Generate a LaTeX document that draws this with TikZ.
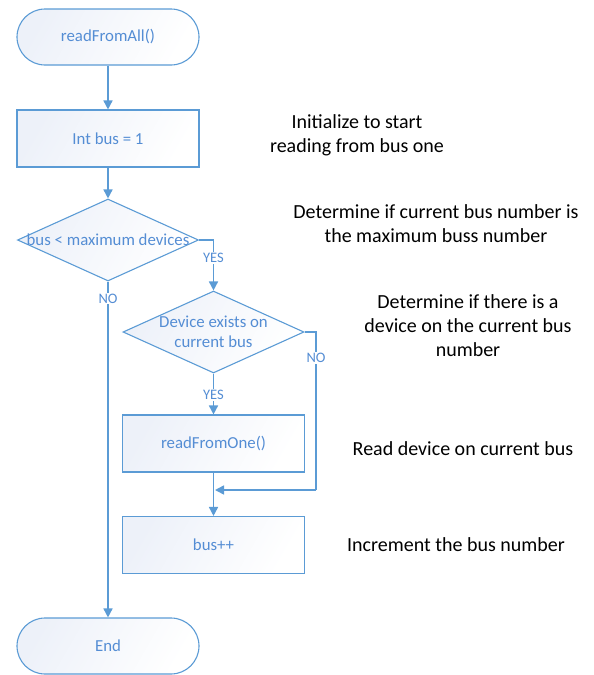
\documentclass[tikz,border=0pt]{standalone}
\usepackage{fontspec}
\setmainfont{Carlito}
\usetikzlibrary{arrows.meta,shapes.geometric}
\definecolor{lineblue}{RGB}{91,155,213}
\definecolor{textblue}{RGB}{84,141,212}
\definecolor{fillblue}{RGB}{237,241,249}
\tikzset{
  base/.style={draw=lineblue, line width=1.1pt, text=textblue, font=\fontsize{16.8}{20}\selectfont,
     left color=fillblue, right color=white, shading angle=60},
  term/.style={base, rounded corners=28pt, minimum width=182pt, minimum height=56pt, inner sep=0pt},
  proc/.style={base, rectangle, minimum width=182pt, minimum height=57pt, inner sep=0pt},
  dec/.style={base, diamond, inner sep=0pt},
  ntext/.style={text=textblue, font=\fontsize{16.8}{20}\selectfont, align=center},
  conn/.style={draw=lineblue, line width=1.6pt, -{Triangle[width=9pt,length=9pt]}},
  plain/.style={draw=lineblue, line width=1.6pt},
  lbl/.style={text=textblue, font=\fontsize{14.5}{16}\selectfont, fill=white, inner sep=1pt},
  note/.style={text=black, font=\fontsize{20}{24}\selectfont, align=center},
}
\begin{document}
\begin{tikzpicture}[x=1pt,y=-1pt]
\useasboundingbox (0,0) rectangle (594,675);
\node[term] (start) at (108,37) {readFromAll()};
\node[proc] (init) at (108,138.5) {Int bus = 1};
\node[dec, minimum width=181pt, minimum height=82pt] (d1) at (108,240) {};
\node[ntext] (d1t) at (d1.center) {bus < maximum devices};
\node[dec, minimum width=181pt, minimum height=82pt] (d2) at (213.5,332) {};
\node[ntext] (d2t) at (d2.center) {Device exists on\\current bus};
\node[proc] (rfo) at (213.5,443.5) {readFromOne()};
\node[proc] (inc) at (213.5,545) {bus++};
\node[term] (end) at (108,646) {End};

\coordinate (r1) at (316,332);
\coordinate (r2) at (316,490);
\coordinate (m) at (215,490);

\draw[conn] (start) -- (init);
\draw[conn] (init) -- (d1);
\draw[conn] (d1.east) -| node[lbl, pos=0.68] {YES} (d2.north);
\draw[conn] (d1.south) -- node[lbl, pos=0.05] {NO} (end.north);
\draw[conn] (d2.south) -- node[lbl, pos=0.52] {YES} (rfo.north);
\draw[plain] (d2.east) -- (r1) -- node[lbl, pos=0.165] {NO} (r2);
\draw[conn] (r2) -- (m);
\draw[conn] (rfo) -- (inc);

\node[note] (n1) at (357,135) {Initialize to start\\reading from bus one};
\node[note] (n2) at (436,224) {Determine if current bus number is\\the maximum buss number};
\node[note] (n3) at (468,326) {Determine if there is a\\device on the current bus\\number};
\node[note] (n4) at (463,449) {Read device on current bus};
\node[note] (n5) at (456,545) {Increment the bus number};
\end{tikzpicture}
\end{document}
